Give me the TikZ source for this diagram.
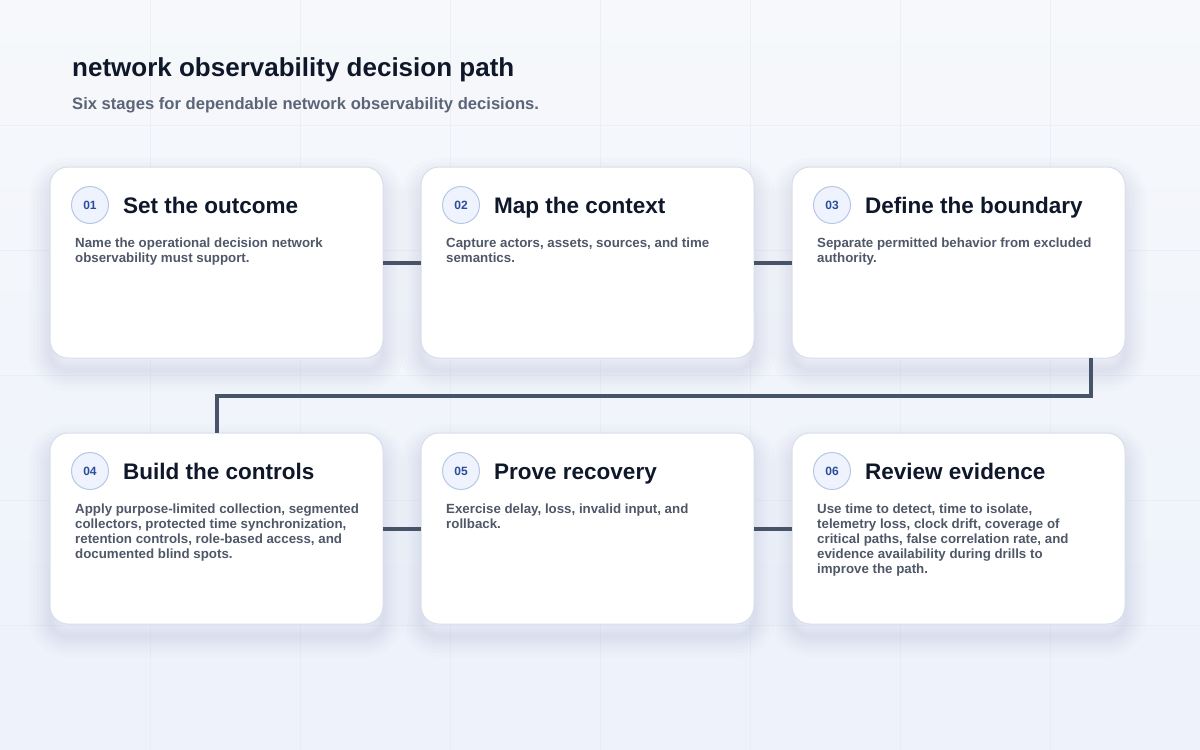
\documentclass[tikz,border=0pt]{standalone}
\usepackage{fontspec}
\setmainfont{Liberation Sans}
\usetikzlibrary{positioning,calc}

\definecolor{bgtop}{HTML}{F6F8FB}
\definecolor{bgbot}{HTML}{EDF2FB}
\definecolor{gridc}{HTML}{DCE3EE}
\definecolor{ink}{HTML}{0F172A}
\definecolor{subc}{HTML}{5B6577}
\definecolor{bodyc}{HTML}{4F5868}
\definecolor{cardline}{HTML}{D8DFEA}
\definecolor{shadowc}{HTML}{8A9AB8}
\definecolor{badgefill}{HTML}{EEF3FD}
\definecolor{badgeline}{HTML}{B7C7E6}
\definecolor{badgetext}{HTML}{2B4D9B}
\definecolor{linkc}{HTML}{475467}

\begin{document}
\begin{tikzpicture}[
    x=1pt, y=-1pt,
    haze/.style={preaction={draw=shadowc, draw opacity=0.028, line width=#1, transform canvas={yshift=-12pt}}},
    card/.style={rectangle, rounded corners=18pt, draw=cardline, line width=1pt, fill=white, outer sep=0pt, minimum width=333pt, minimum height=191pt,
        haze=42pt, haze=34pt, haze=27pt, haze=20pt, haze=14pt, haze=8pt, haze=3pt},
    badge/.style={circle, draw=badgeline, line width=1pt, fill=badgefill, minimum size=37pt, inner sep=0pt, text=badgetext, font=\bfseries\fontsize{12}{14}\selectfont},
    head/.style={inner sep=0pt, text=ink, text height=16pt, text depth=0pt, font=\bfseries\fontsize{22.5}{26}\selectfont},
    body/.style={inner sep=0pt, anchor=north west, align=left, text=bodyc, font=\bfseries\fontsize{13.3}{15}\selectfont},
    link/.style={draw=linkc, line width=4pt},
    gridline/.style={draw=gridc, draw opacity=0.35, line width=0.8pt}
]

% Background
\useasboundingbox (0,0) rectangle (1200,750);
\shade[top color=bgtop, bottom color=bgbot] (0,0) rectangle (1200,750);
\foreach \gx in {150,300,...,1050} \draw[gridline] (\gx,0) -- (\gx,750);
\foreach \gy in {125,250,...,625} \draw[gridline] (0,\gy) -- (1200,\gy);

% Heading
\node (title) [anchor=base west, inner sep=0pt, text=ink, font=\bfseries\fontsize{26}{30}\selectfont] at (72,76) {network observability decision path};
\node (sub) [anchor=base west, inner sep=0pt, text=subc, font=\bfseries\fontsize{16.6}{20}\selectfont] at ([yshift=-33pt]title.base west) {Six stages for dependable network observability decisions.};

% Stage cards
\node (s1) [card] at (216.5,262.5) {};
\node (s2) [card, right=38pt of s1] {};
\node (s3) [card, right=38pt of s2] {};
\node (s4) [card, below=75pt of s1] {};
\node (s5) [card, right=38pt of s4] {};
\node (s6) [card, right=38pt of s5] {};

% Connectors
\coordinate (bend) at ($(s3.south)!0.5!(s6.north)$);
\draw [link] (s1) -- (s2);
\draw [link] (s2) -- (s3);
\draw [link] ([xshift=-34pt]s3.south east) |- (bend) -| (s4.north);
\draw [link] (s4) -- (s5);
\draw [link] (s5) -- (s6);

% Badges
\node (b1) [badge] at ([shift={(40,38)}]s1.north west) {01};
\node (b2) [badge] at ([shift={(40,38)}]s2.north west) {02};
\node (b3) [badge] at ([shift={(40,38)}]s3.north west) {03};
\node (b4) [badge] at ([shift={(40,38)}]s4.north west) {04};
\node (b5) [badge] at ([shift={(40,38)}]s5.north west) {05};
\node (b6) [badge] at ([shift={(40,38)}]s6.north west) {06};

% Titles
\node (h1) [head, right=14pt of b1] {Set the outcome};
\node (h2) [head, right=14pt of b2] {Map the context};
\node (h3) [head, right=14pt of b3] {Define the boundary};
\node (h4) [head, right=14pt of b4] {Build the controls};
\node (h5) [head, right=14pt of b5] {Prove recovery};
\node (h6) [head, right=14pt of b6] {Review evidence};

% Descriptions
\node (d1) [body] at ([shift={(25,71)}]s1.north west) {Name the operational decision network\\observability must support.};
\node (d2) [body] at ([shift={(25,71)}]s2.north west) {Capture actors, assets, sources, and time\\semantics.};
\node (d3) [body] at ([shift={(25,71)}]s3.north west) {Separate permitted behavior from excluded\\authority.};
\node (d4) [body] at ([shift={(25,71)}]s4.north west) {Apply purpose-limited collection, segmented\\collectors, protected time synchronization,\\retention controls, role-based access, and\\documented blind spots.};
\node (d5) [body] at ([shift={(25,71)}]s5.north west) {Exercise delay, loss, invalid input, and\\rollback.};
\node (d6) [body] at ([shift={(25,71)}]s6.north west) {Use time to detect, time to isolate,\\telemetry loss, clock drift, coverage of\\critical paths, false correlation rate, and\\evidence availability during drills to\\improve the path.};

\end{tikzpicture}
\end{document}
